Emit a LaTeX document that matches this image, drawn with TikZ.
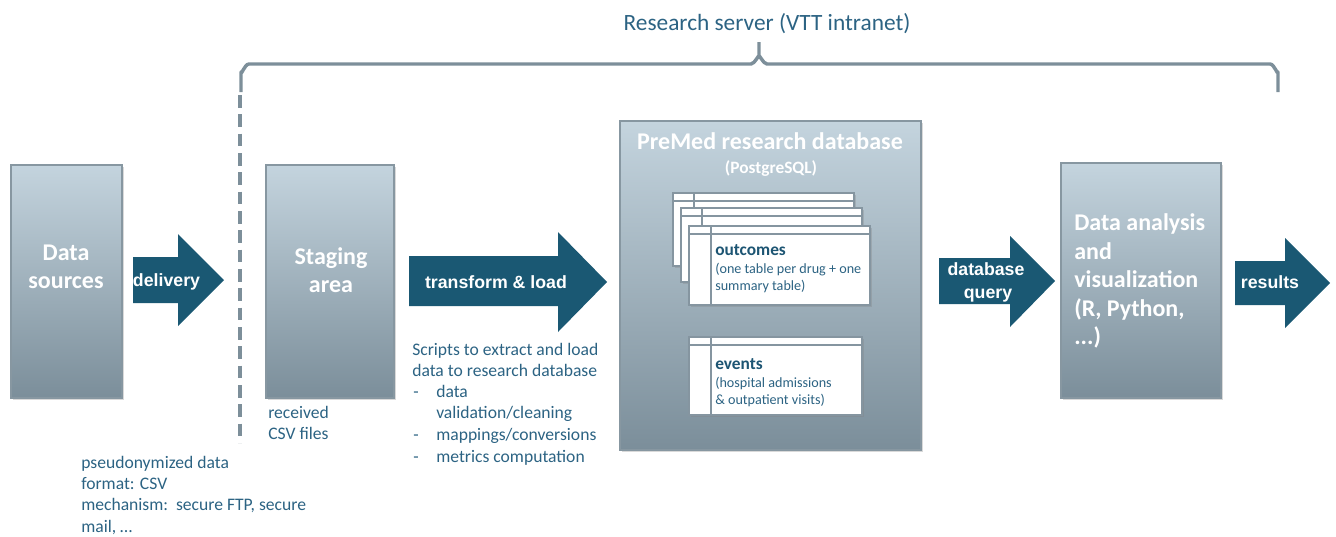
\documentclass[tikz,border=0pt]{standalone}
\usepackage{fontspec}
\setmainfont{Carlito}
\newfontfamily\arialf{Liberation Sans}
\usetikzlibrary{shadows}
\definecolor{arrowc}{HTML}{1A5873}
\definecolor{tblue}{HTML}{2C6383}
\definecolor{tdark}{HTML}{1D5573}
\definecolor{gtop}{HTML}{C4D4DE}
\definecolor{gbot}{HTML}{7B8E9A}
\definecolor{boxline}{HTML}{8797A1}
\definecolor{greyline}{HTML}{7D8F9A}
\definecolor{tblline}{HTML}{8595A0}
\begin{document}
\begin{tikzpicture}[x=0.75pt,y=-0.75pt,
  box/.style={draw=boxline, line width=0.9pt, top color=gtop, bottom color=gbot, inner sep=0,
    drop shadow={opacity=0.3, shadow xshift=1.5pt, shadow yshift=-1.5pt}},
  tbl/.style={draw=tblline, line width=1.3pt, fill=white, inner sep=0,
    drop shadow={opacity=0.3, shadow xshift=1.2pt, shadow yshift=-1.2pt}},
  tblrule/.style={draw=tblline, line width=1.3pt},
  boxtxt/.style={anchor=base, inner sep=0, text=white, font=\bfseries\fontsize{18}{21.5}\selectfont},
  arrowtxt/.style={anchor=base, inner sep=0, text=white, font=\arialf\bfseries\fontsize{13.3}{17}\selectfont},
  fatarrow/.style={fill=arrowc},
  txt/.style={anchor=base west, inner sep=0, text=tblue, font=\fontsize{13.2}{15.8}\selectfont},
  tbold/.style={anchor=base west, inner sep=0, text=tdark, font=\bfseries\fontsize{13}{15}\selectfont},
  tsmall/.style={anchor=base west, inner sep=0, text=tblue, font=\fontsize{10.6}{13}\selectfont},
  greystroke/.style={draw=greyline, line width=2.6pt}
]
\useasboundingbox (0,0) rectangle (1336,536);

% title and brace
\node[anchor=base, inner sep=0, text=tblue, font=\fontsize{17.5}{20}\selectfont] (server) at (767,30) {Research server (VTT intranet)};
\coordinate (bl) at (241,92);
\coordinate (br) at (1278,92);
\draw[greystroke, line join=round] (bl) -- (241,72) to[out=-90,in=180] (249,64) -- (751,64)
   to[out=0,in=90] (759,57) -- (759,42);
\draw[greystroke, line join=round] (759,57) to[out=90,in=180] (767,64) -- (1270,64)
   to[out=0,in=-90] (1278,72) -- (br);
\coordinate (dtop) at (240,95);
\coordinate (dbot) at (240,443);
\draw[greystroke, line width=3pt, dash pattern=on 9.5pt off 5pt] (dtop) -- (dbot);

% boxes
\node[box, minimum width=83.25pt, minimum height=174.75pt] (src) at (66.5,281.5) {};
\node[boxtxt] (srct1) at (66,260) {Data};
\node[boxtxt] (srct2) at (66,288) {sources};

\node[box, minimum width=96pt, minimum height=174.75pt] (stage) at (330,281.5) {};
\node[boxtxt] (stg1) at (331,264) {Staging};
\node[boxtxt] (stg2) at (331,292) {area};

\node[box, minimum width=225.75pt, minimum height=246.75pt] (db) at (770.5,285.5) {};
\node[boxtxt] (dbt1) at (770,149) {PreMed research database};
\node[anchor=base, inner sep=0, text=white, font=\bfseries\fontsize{13}{15}\selectfont] (dbt2) at (771,173) {(PostgreSQL)};

\node[box, minimum width=120pt, minimum height=176.25pt] (ana) at (1141,280.5) {};
\node[boxtxt, anchor=base west] (an1) at (1074,230) {Data analysis};
\node[boxtxt, anchor=base west] (an2) at (1074,259) {and};
\node[boxtxt, anchor=base west] (an3) at (1074,287) {visualization};
\node[boxtxt, anchor=base west] (an4) at (1074,316) {(R, Python,};
\node[boxtxt, anchor=base west] (an5) at (1074,344) {...)};

% tables
\node[tbl, minimum width=135.75pt, minimum height=54.75pt] (t1) at (763.5,229.5) {};
\draw[tblrule] ([yshift=-6.75pt]t1.north west) -- ([yshift=-6.75pt]t1.north east);
\draw[tblrule] ([xshift=16.5pt]t1.north west) -- ([xshift=16.5pt]t1.south west);
\node[tbl, minimum width=135.75pt, minimum height=55.5pt] (t2) at (771.5,245) {};
\draw[tblrule] ([yshift=-6.75pt]t2.north west) -- ([yshift=-6.75pt]t2.north east);
\draw[tblrule] ([xshift=16.5pt]t2.north west) -- ([xshift=16.5pt]t2.south west);
\node[tbl, minimum width=135.75pt, minimum height=59.25pt] (t3) at (779.5,265.5) {};
\draw[tblrule] ([yshift=-6.75pt]t3.north west) -- ([yshift=-6.75pt]t3.north east);
\draw[tblrule] ([xshift=17pt]t3.north west) -- ([xshift=17pt]t3.south west);
\node[tbold] (oc1) at (715,255) {outcomes};
\node[tsmall] (oc2) at (715,273) {(one table per drug + one};
\node[tsmall] (oc3) at (715,290) {summary table)};

\node[tbl, minimum width=129.75pt, minimum height=58.5pt] (ev) at (775.5,376) {};
\draw[tblrule] ([yshift=-6.75pt]ev.north west) -- ([yshift=-6.75pt]ev.north east);
\draw[tblrule] ([xshift=17pt]ev.north west) -- ([xshift=17pt]ev.south west);
\node[tbold] (ev1) at (715,369) {events};
\node[tsmall] (ev2) at (715,387) {(hospital admissions};
\node[tsmall] (ev3) at (715,404) {\& outpatient visits)};

% arrows
\fill[fatarrow] (133,257) -- (178,257) -- (178,234) -- (224,280) -- (178,326) -- (178,303) -- (133,303) -- cycle;
\node[arrowtxt] (a1) at (166.5,286) {delivery};
\fill[fatarrow] (409,256) -- (558,256) -- (558,232) -- (607,282) -- (558,332) -- (558,306) -- (409,306) -- cycle;
\node[arrowtxt] (a2) at (496,288) {transform \& load};
\fill[fatarrow] (939,258) -- (1010,258) -- (1010,236) -- (1055,281) -- (1010,327) -- (1010,304) -- (939,304) -- cycle;
\node[arrowtxt] (a3) at (986,275) {database};
\node[arrowtxt] (a3b) at (988,298) {query};
\fill[fatarrow] (1235,261) -- (1285,261) -- (1285,238) -- (1330,283) -- (1285,328) -- (1285,305) -- (1235,305) -- cycle;
\node[arrowtxt] (a4) at (1270,288) {results};

% annotations
\node[txt] (r1) at (268,418) {received};
\node[txt] (r2) at (268,439) {CSV files};

\node[txt] (p1) at (81,468) {pseudonymized data};
\node[txt] (p2) at (81,489) {format: CSV};
\node[txt] (p3) at (81,510) {mechanism:\ \ secure\ FTP, secure};
\node[txt] (p4) at (81,532) {mail, …};

\node[txt] (s1) at (412,355) {Scripts to extract and load};
\node[txt] (s2) at (412,376) {data to research\ database};
\node[txt] (s3d) at (413,397) {-};
\node[txt] (s3) at (436,397) {data};
\node[txt] (s4) at (436,418) {validation/cleaning};
\node[txt] (s5d) at (413,440) {-};
\node[txt] (s5) at (436,440) {mappings/conversions};
\node[txt] (s6d) at (413,462) {-};
\node[txt] (s6) at (436,462) {metrics computation};
\end{tikzpicture}
\end{document}
